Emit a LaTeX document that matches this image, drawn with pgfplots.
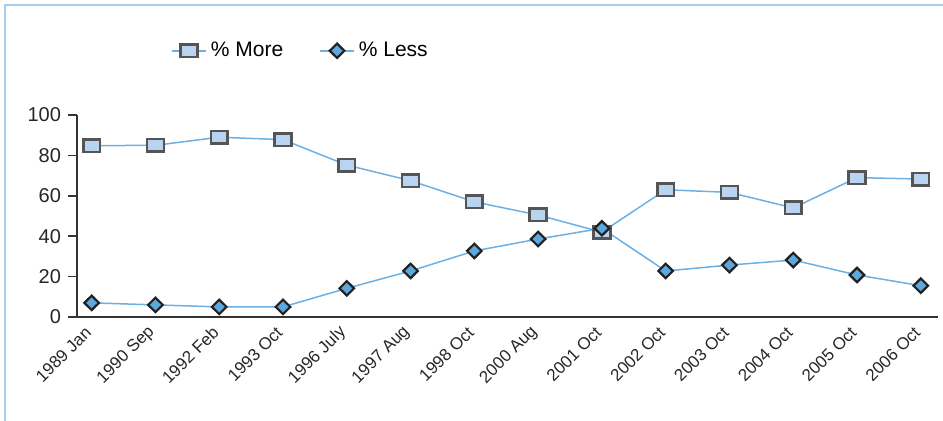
\documentclass[border=0pt]{standalone}
\usepackage{fontspec}
\setmainfont{Liberation Sans}
\usepackage{pgfplots}
\pgfplotsset{compat=1.18}

\definecolor{frameblue}{HTML}{A8CDEB}
\definecolor{lineblue}{HTML}{6CB0E4}
\definecolor{morefill}{HTML}{B8D4F0}
\definecolor{moredraw}{HTML}{555555}
\definecolor{lessfill}{HTML}{5FA8DE}
\definecolor{lessdraw}{HTML}{222222}
\definecolor{axgray}{HTML}{333333}

\begin{document}
\begin{tikzpicture}
% picture size: 943 x 420 px at 0.5pt per px, axis origin at (77px,317px)
\useasboundingbox (-38.5pt,-51.5pt) rectangle (433pt,158.5pt);
\draw[frameblue, line width=1pt] (-36pt,-52pt) -- (-36pt,156pt) -- (434pt,156pt);

\begin{axis}[
  scale only axis,
  width=430.5pt, height=101pt,
  xmin=-0.23, xmax=13.27,
  ymin=0, ymax=100,
  axis x line=bottom,
  axis y line=left,
  axis line style={axgray, line width=0.8pt, -},
  xtick={0,...,13},
  xticklabels={1989 Jan,1990 Sep,1992 Feb,1993 Oct,1996 July,1997 Aug,1998 Oct,2000 Aug,2001 Oct,2002 Oct,2003 Oct,2004 Oct,2005 Oct,2006 Oct},
  x tick style={draw=none},
  ytick={0,20,...,100},
  y tick style={axgray, line width=0.8pt},
  tick align=outside,
  major tick length=4.5pt,
  yticklabel style={font=\fontsize{10}{11}\selectfont, text=black!85},
  xticklabel style={font=\fontsize{8.5}{9}\selectfont, rotate=45, anchor=east, text=black!85, xshift=1pt},
  /pgf/number format/assume math mode=true,
  clip=false,
  legend style={
    at={(0.109,1.318)}, anchor=west,
    draw=none, fill=none,
    font=\fontsize{10.5}{12}\selectfont,
    legend columns=-1,
    /tikz/every even column/.append style={column sep=16pt},
    inner sep=0pt,
  },
  legend cell align=left,
]

\addplot+[
  color=lineblue, line width=0.75pt,
  mark=square*,
  mark options={draw=moredraw, fill=morefill, line width=1.3pt, xscale=1.35, solid},
  mark size=3.1pt,
] coordinates {
(0,84.8) (1,85) (2,89) (3,87.8) (4,75.2) (5,67.5) (6,57)
(7,50.5) (8,42) (9,63) (10,61.7) (11,54) (12,69) (13,68.3)
};
\addlegendentry{\% More}

\addplot+[
  color=lineblue, line width=0.75pt,
  mark=diamond*,
  mark options={draw=lessdraw, fill=lessfill, line width=1.1pt, xscale=1.35, solid},
  mark size=3.6pt,
] coordinates {
(0,7) (1,6) (2,5) (3,5) (4,14.2) (5,22.8) (6,32.7)
(7,38.6) (8,43.9) (9,22.8) (10,25.7) (11,28.2) (12,20.8) (13,15.5)
};
\addlegendentry{\% Less}

\end{axis}
\end{tikzpicture}
\end{document}
